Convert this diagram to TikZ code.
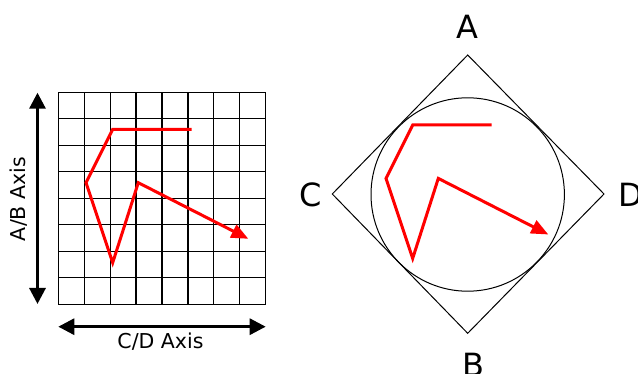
\documentclass[tikz,border=0pt]{standalone}
\usepackage{fontspec}
\setmainfont{DejaVu Sans}
\usepackage{tikz}
\usetikzlibrary{positioning, arrows.meta, calc}

\begin{document}
\begin{tikzpicture}[x=1pt, y=-1pt,
    axisarrow/.style={line width=3pt, {Triangle[length=16pt, width=16pt]}-{Triangle[length=16pt, width=16pt]}},
    route/.style={red, line width=3pt, line join=miter, -{Triangle[length=17pt, width=14pt]}},
    axislabel/.style={inner sep=0pt, font=\fontsize{20.5}{24}\selectfont},
    cornerlabel/.style={inner sep=0pt, font=\fontsize{32}{38}\selectfont}]
      \useasboundingbox (0,0) rectangle (638,374);

      % Grid
      \foreach \i in {0,...,8} {
        \draw[line width=1.2pt] (58.3+25.925*\i, 92.3) -- ++(0,212);
        \draw[line width=1.2pt] (58.3, 92.3+26.5*\i) -- ++(207.4,0);
      }

      % Axes
      \coordinate (abtop) at (37.5, 92.7);
      \coordinate (abbot) at (37.5, 304);
      \coordinate (cdleft) at (58.3, 326.7);
      \coordinate (cdright) at (265.7, 326.7);
      \draw[axisarrow] (abtop) -- (abbot);
      \draw[axisarrow] (cdleft) -- (cdright);
      \node[axislabel, rotate=90] (ablabel) at (18.3, 199) {A/B Axis};
      \node[axislabel] (cdlabel) at (160.5, 341.5) {C/D Axis};

      % Route on the grid
      \begin{scope}[shift={(112.7,129.3)}]
        \coordinate (g1) at (79, 0);
        \coordinate (g2) at (0, 0);
        \coordinate (g3) at (-26.7, 53.4);
        \coordinate (g4) at (0, 133.4);
        \coordinate (g5) at (25.6, 53.4);
        \coordinate (g6) at (135.6, 109.5);
      \end{scope}
      \draw[route] (g1) -- (g2) -- (g3) -- (g4) -- (g5) -- (g6);

      % Diamond and circle
      \coordinate (top) at (467.7, 55);
      \coordinate (bot) at (467.7, 333.3);
      \coordinate (lft) at (332.3, 194);
      \coordinate (rgt) at (604, 194);
      \draw[line width=1pt] (top) -- (rgt) -- (bot) -- (lft) -- cycle;
      \draw[line width=1pt] (467.7, 194.5) circle[radius=96.7];

      % Route in the circle
      \begin{scope}[shift={(412.7,125)}]
        \coordinate (c1) at (79, 0);
        \coordinate (c2) at (0, 0);
        \coordinate (c3) at (-26.7, 53.4);
        \coordinate (c4) at (0, 133.4);
        \coordinate (c5) at (25.6, 53.4);
        \coordinate (c6) at (135.6, 109.5);
      \end{scope}
      \draw[route] (c1) -- (c2) -- (c3) -- (c4) -- (c5) -- (c6);

      % Labels
      \node[cornerlabel] (labA) at (467.7, 26.7) {A};
      \node[cornerlabel] (labB) at (473, 365) {B};
      \node[cornerlabel] (labC) at (311, 194.7) {C};
      \node[cornerlabel] (labD) at (630.5, 194.7) {D};
    \end{tikzpicture}
\end{document}
